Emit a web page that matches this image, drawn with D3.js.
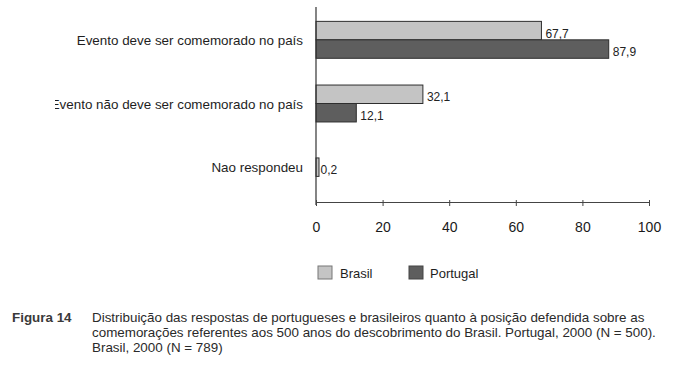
<!DOCTYPE html>
<html>
<head>
<meta charset="UTF-8">
<title>Figura 14</title>
<script src="https://cdn.jsdelivr.net/npm/d3@7"></script>
<style>
  body { margin: 0; background: #fff; }
  text { font-family: "Liberation Sans", Arial, Helvetica, sans-serif; }
</style>
</head>
<body>
<script>
// chart values
var categories = ["Evento deve ser comemorado no país", "Evento não deve ser comemorado no país", "Nao respondeu"];
var seriesNames = ["Brasil", "Portugal"];
var brasil = [67.7, 32.1, 0.2];
var portugal = [87.9, 12.1, null];
var xTicks = [0, 20, 40, 60, 80, 100];
var captionLabel = "Figura 14";
var captionLines = [
  "Distribuição das respostas de portugueses e brasileiros quanto à posição defendida sobre as",
  "comemorações referentes aos 500 anos do descobrimento do Brasil. Portugal, 2000 (N = 500).",
  "Brasil, 2000 (N = 789)"
];

var fills = { "Brasil": "#c4c4c4", "Portugal": "#5e5e5e" };

var svg = d3.select("body").append("svg")
    .attr("width", 675)
    .attr("height", 368);

// scales
var x = d3.scaleLinear().domain([0, 100]).range([316, 649]);
var y = d3.scaleBand().domain(categories).range([8, 199])
    .paddingInner(0.42).paddingOuter(0.21);
var ySub = d3.scaleBand().domain(seriesNames).range([0, y.bandwidth()]);

var fmt = function(v) { return d3.format(".1f")(v).replace(".", ","); };
var minW = 3; // tiny values still get a visible sliver

// rows of bars
var rows = categories.map(function(c, i) {
  var vals = [{ s: "Brasil", v: brasil[i] }, { s: "Portugal", v: portugal[i] }]
    .filter(function(d) { return d.v != null; });
  vals.forEach(function(v) { v.n = vals.length; });
  return { cat: c, vals: vals };
});

function barTop(d) {
  return d.n == 2 ? ySub(d.s) : (y.bandwidth() - ySub.bandwidth()) / 2;
}

var group = svg.append("g").selectAll("g").data(rows).enter().append("g")
    .attr("transform", function(d) { return "translate(0," + y(d.cat) + ")"; });

group.selectAll("rect").data(function(d) { return d.vals; })
  .enter().append("rect")
    .attr("x", x(0))
    .attr("y", barTop)
    .attr("width", function(d) { return Math.max(x(d.v) - x(0), minW); })
    .attr("height", ySub.bandwidth())
    .attr("fill", function(d) { return fills[d.s]; })
    .attr("stroke", "#2e2e2e")
    .attr("stroke-width", 1);

group.selectAll("text.val").data(function(d) { return d.vals; })
  .enter().append("text")
    .attr("class", "val")
    .attr("x", function(d) { return Math.max(x(d.v), x(0) + minW) + (d.v < 1 ? 1.5 : 4); })
    .attr("y", function(d) { return barTop(d) + ySub.bandwidth() / 2 + 7; })
    .attr("font-size", 12)
    .attr("fill", "#222")
    .text(function(d) { return fmt(d.v); });

// category labels (second one is cut at the left edge in the scan)
svg.append("clipPath").attr("id", "labelClip")
  .append("rect").attr("x", 55).attr("y", 0).attr("width", 620).attr("height", 368);

svg.append("g").attr("clip-path", "url(#labelClip)")
  .selectAll("text").data(categories).enter().append("text")
    .attr("x", 303)
    .attr("y", function(d) { return y(d) + y.bandwidth() / 2 + 5; })
    .attr("text-anchor", "end")
    .attr("font-size", 13.4)
    .attr("fill", "#1e1e1e")
    .text(function(d) { return d; });

// axes
svg.append("line")
    .attr("x1", x(0)).attr("x2", x(0))
    .attr("y1", 7).attr("y2", 205)
    .attr("stroke", "#333").attr("stroke-width", 1.2);

var xAxis = svg.append("g")
    .attr("transform", "translate(0,202)")
    .call(d3.axisBottom(x).tickValues(xTicks).tickSize(4).tickPadding(16).tickSizeOuter(0));
xAxis.select(".domain").attr("stroke", "#444");
xAxis.selectAll(".tick line").attr("stroke", "#444").attr("y1", -2);
xAxis.selectAll(".tick text")
    .attr("font-size", 14)
    .attr("fill", "#1a1a1a")
    .style("font-family", "'Liberation Sans', Arial, sans-serif");

// legend
var legend = svg.append("g").selectAll("g").data(seriesNames).enter().append("g")
    .attr("transform", function(d, i) { return "translate(" + (i == 0 ? 318 : 409) + ",266)"; });
legend.append("rect")
    .attr("width", 14).attr("height", 13)
    .attr("fill", function(d) { return fills[d]; })
    .attr("stroke", function(d) { return d == "Brasil" ? "#777" : "#444"; });
legend.append("text")
    .attr("x", function(d, i) { return i == 0 ? 22 : 21; })
    .attr("y", 12)
    .attr("font-size", 13)
    .attr("fill", "#1e1e1e")
    .text(function(d) { return d; });

// caption
svg.append("text")
    .attr("x", 12).attr("y", 322)
    .attr("font-size", 13.4).attr("font-weight", "bold")
    .attr("fill", "#3a3a3a")
    .text(captionLabel);

svg.append("g").selectAll("text").data(captionLines).enter().append("text")
    .attr("x", 92)
    .attr("y", function(d, i) { return 322 + i * 15; })
    .attr("font-size", 13.4)
    .attr("fill", "#2a2a2a")
    .text(function(d) { return d; });
</script>
</body>
</html>
